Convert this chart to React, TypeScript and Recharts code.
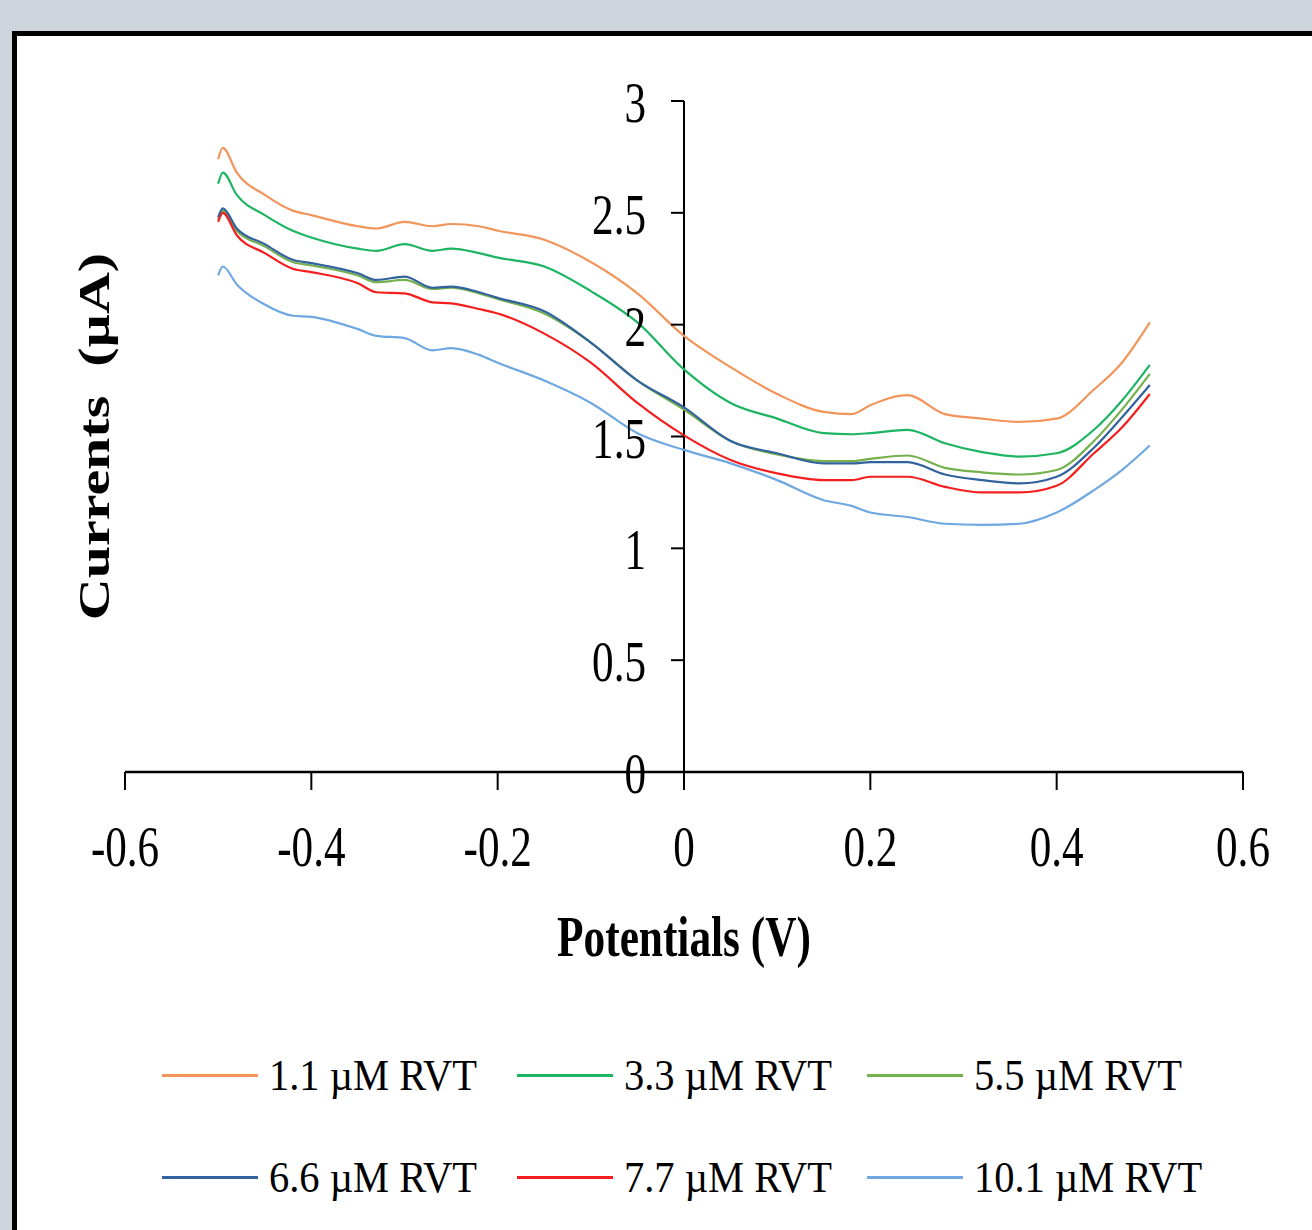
import { LineChart, Line, XAxis, YAxis, ReferenceLine, ReferenceDot, Legend } from "recharts";

const SERIF = '"Liberation Serif", "Times New Roman", serif';

// Potential sweep (V)
const potentials = [
  -0.5, -0.495, -0.48, -0.45, -0.42, -0.4, -0.35, -0.33, -0.3, -0.27, -0.25, -0.22, -0.2, -0.15, -0.1,
  -0.05, 0, 0.05, 0.1, 0.15, 0.18, 0.2, 0.24, 0.28, 0.32, 0.36, 0.4, 0.44, 0.47, 0.5,
];

// Currents (µA) for each RVT concentration
const rvt1_1 = [
  2.74, 2.79, 2.68, 2.58, 2.51, 2.49, 2.44, 2.43, 2.46, 2.44, 2.45, 2.44, 2.42, 2.38, 2.28,
  2.14, 1.95, 1.81, 1.69, 1.61, 1.6, 1.64, 1.685, 1.6, 1.58, 1.565, 1.58, 1.71, 1.83, 2.01,
];
const rvt3_3 = [
  2.63, 2.68, 2.58, 2.49, 2.42, 2.39, 2.34, 2.33, 2.36, 2.33, 2.34, 2.32, 2.3, 2.26, 2.15,
  2.01, 1.8, 1.65, 1.58, 1.515, 1.51, 1.515, 1.53, 1.47, 1.43, 1.41, 1.425, 1.53, 1.66, 1.82,
];
const rvt5_5 = [
  2.47, 2.51, 2.42, 2.35, 2.28, 2.265, 2.22, 2.19, 2.2, 2.16, 2.165, 2.14, 2.115, 2.05, 1.92,
  1.75, 1.62, 1.48, 1.42, 1.39, 1.39, 1.4, 1.415, 1.36, 1.34, 1.33, 1.35, 1.48, 1.62, 1.78,
];
const rvt6_6 = [
  2.48, 2.52, 2.43, 2.36, 2.29, 2.275, 2.23, 2.2, 2.215, 2.165, 2.17, 2.145, 2.12, 2.06, 1.92,
  1.75, 1.63, 1.48, 1.425, 1.38, 1.38, 1.385, 1.385, 1.33, 1.305, 1.29, 1.32, 1.45, 1.585, 1.73,
];
const rvt7_7 = [
  2.46, 2.5, 2.4, 2.32, 2.25, 2.235, 2.185, 2.145, 2.14, 2.1, 2.095, 2.07, 2.05, 1.96, 1.83,
  1.65, 1.505, 1.395, 1.335, 1.305, 1.305, 1.32, 1.32, 1.275, 1.25, 1.25, 1.28, 1.425, 1.54, 1.69,
];
const rvt10_1 = [
  2.22, 2.26, 2.18, 2.09, 2.04, 2.035, 1.98, 1.95, 1.94, 1.885, 1.895, 1.865, 1.83, 1.75, 1.65,
  1.515, 1.44, 1.38, 1.305, 1.215, 1.19, 1.16, 1.14, 1.11, 1.105, 1.11, 1.16, 1.26, 1.35, 1.46,
];

const xTicks = [-0.6, -0.4, -0.2, 0, 0.2, 0.4, 0.6];
const yTicks = [0, 0.5, 1, 1.5, 2, 2.5, 3];

const SERIES = [
  { key: "c1", name: "1.1 µM RVT", color: "#F2955A", values: rvt1_1 },
  { key: "c2", name: "3.3 µM RVT", color: "#1DB462", values: rvt3_3 },
  { key: "c3", name: "5.5 µM RVT", color: "#74B04C", values: rvt5_5 },
  { key: "c4", name: "6.6 µM RVT", color: "#32639E", values: rvt6_6 },
  { key: "c5", name: "7.7 µM RVT", color: "#F51E1E", values: rvt7_7 },
  { key: "c6", name: "10.1 µM RVT", color: "#6FA8E0", values: rvt10_1 },
];

const chartData = potentials.map((v, i) => {
  const row: Record<string, number> = { v };
  SERIES.forEach((s) => {
    row[s.key] = s.values[i];
  });
  return row;
});

function XTick({ x, y, payload }: any) {
  return (
    <text
      transform={`translate(${x},${y + 74}) scale(0.77,1)`}
      textAnchor="middle"
      fontSize={56}
      fontFamily={SERIF}
      fill="#000"
    >
      {payload.value}
    </text>
  );
}

// tick mark + label on the vertical axis through x = 0
const yTickShape = (label: number) => ({ cx, cy }: any) => (
  <g>
    <line x1={cx - 13} y1={cy} x2={cx} y2={cy} stroke="#000" strokeWidth={2} />
    <text
      transform={`translate(${cx - 38},${cy + 21}) scale(0.77,1)`}
      textAnchor="end"
      fontSize={56}
      fontFamily={SERIF}
      fill="#000"
    >
      {label}
    </text>
  </g>
);

function XTitle({ viewBox }: any) {
  const cx = viewBox.x + viewBox.width / 2;
  return (
    <text
      transform={`translate(${cx},${viewBox.y + 184}) scale(0.76,1)`}
      textAnchor="middle"
      fontSize={57}
      fontWeight="bold"
      fontFamily={SERIF}
      fill="#000"
    >
      Potentials (V)
    </text>
  );
}

function YTitle({ viewBox }: any) {
  const cy = viewBox.y + viewBox.height / 2;
  return (
    <text
      transform={`translate(${viewBox.x - 16},${cy}) rotate(-90) scale(1,0.78)`}
      textAnchor="middle"
      fontSize={58}
      fontWeight="bold"
      fontFamily={SERIF}
      fill="#000"
      style={{ whiteSpace: "pre" }}
    >
      {"Currents  (µA)"}
    </text>
  );
}

function LegendBox({ payload }: any) {
  const order = (v: string) => SERIES.findIndex((s) => s.name === v);
  const items = [...(payload || [])].sort((a: any, b: any) => order(a.value) - order(b.value));
  return (
    <div style={{ display: "grid", gridTemplateColumns: "355px 350px 350px" }}>
      {items.map((item: any) => (
        <div key={item.value} style={{ display: "flex", alignItems: "center", height: 102 }}>
          <span style={{ width: 96, height: 3, background: item.color, marginRight: 11, flex: "none" }} />
          <span
            style={{
              fontFamily: SERIF,
              fontSize: 44,
              color: "#000",
              whiteSpace: "nowrap",
              transform: "scaleX(0.92)",
              transformOrigin: "left center",
            }}
          >
            {item.value}
          </span>
        </div>
      ))}
    </div>
  );
}

export default function App() {
  return (
    <div
      style={{
        position: "absolute",
        left: 0,
        top: 0,
        width: 1312,
        height: 1230,
        overflow: "hidden",
        background: "#CFD4DD",
      }}
    >
      <div
        style={{
          position: "absolute",
          left: 12,
          top: 31,
          width: 1400,
          height: 1300,
          background: "#fff",
          borderTop: "5px solid #000",
          borderLeft: "5px solid #000",
        }}
      />
      <div style={{ position: "absolute", left: 0, top: 0 }}>
        <LineChart
          width={1312}
          height={1230}
          data={chartData}
          margin={{ top: 101, right: 69, bottom: 358, left: 125 }}
        >
          <XAxis
            dataKey="v"
            type="number"
            domain={[-0.6, 0.6]}
            ticks={xTicks}
            interval={0}
            height={100}
            axisLine={{ stroke: "#000", strokeWidth: 2.5 }}
            tickLine={{ stroke: "#000", strokeWidth: 2 }}
            tickSize={18}
            tickMargin={2}
            tick={<XTick />}
            label={<XTitle />}
          />
          <YAxis type="number" domain={[0, 3]} ticks={yTicks} width={0} hide />
          {/* invisible line at the left plot edge carries the y-axis title */}
          <ReferenceLine x={-0.6} stroke="none" label={<YTitle />} />
          <ReferenceLine x={0} stroke="#000" strokeWidth={2} />
          {yTicks.map((t) => (
            <ReferenceDot key={t} x={0} y={t} r={1} shape={yTickShape(t)} />
          ))}
          {SERIES.map((s) => (
            <Line
              key={s.key}
              type="monotone"
              dataKey={s.key}
              name={s.name}
              stroke={s.color}
              strokeWidth={2.2}
              dot={false}
              isAnimationActive={false}
            />
          ))}
          <Legend
            layout="vertical"
            align="center"
            verticalAlign="middle"
            wrapperStyle={{ left: 162, top: 1024, width: 1100 }}
            content={<LegendBox />}
          />
        </LineChart>
      </div>
    </div>
  );
}
